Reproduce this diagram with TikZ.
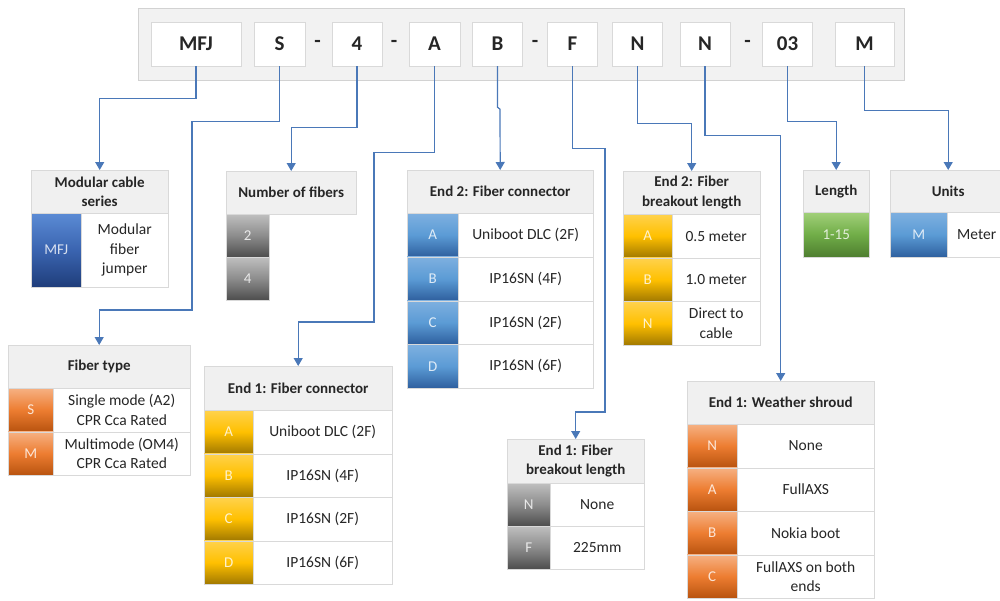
\documentclass[tikz,border=0pt]{standalone}
\usepackage{fontspec}
\setmainfont{Carlito}
\usetikzlibrary{arrows.meta}
\definecolor{linkblue}{HTML}{4A78B8}
\definecolor{inkgrey}{HTML}{262626}
\begin{document}
\begin{tikzpicture}[
    x=1pt, y=-1pt,
    every node/.style={inner sep=0pt, text=inkgrey},
    bar/.style={draw=gray!35, fill=gray!10, anchor=north west},
    code/.style={draw=gray!30, fill=white, minimum width=50, minimum height=44, font=\fontsize{21}{21}\selectfont\bfseries},
    sep/.style={font=\fontsize{21}{21}\selectfont\bfseries},
    hdr/.style={draw=gray!30, fill=gray!12, anchor=north west, align=center, font=\fontsize{15}{19.5}\selectfont\bfseries},
    txt/.style={draw=gray!30, fill=white, anchor=north west, align=center, font=\fontsize{15.5}{19.5}\selectfont},
    key/.style={draw=gray!30, anchor=north west, text=white, text opacity=0.8, font=\fontsize{15}{15}\selectfont},
    keyblue/.style={key, top color={rgb,255:red,126;green,176;blue,224}, bottom color={rgb,255:red,46;green,95;blue,158}, middle color={rgb,255:red,91;green,155;blue,213}},
    keynavy/.style={key, top color={rgb,255:red,91;green,139;blue,213}, bottom color={rgb,255:red,31;green,61;blue,122}, middle color={rgb,255:red,58;green,100;blue,176}},
    keygold/.style={key, top color={rgb,255:red,255;green,210;blue,77}, bottom color={rgb,255:red,160;green,120;blue,0}, middle color={rgb,255:red,255;green,192;blue,0}},
    keyorange/.style={key, top color={rgb,255:red,246;green,177;blue,131}, bottom color={rgb,255:red,184;green,83;blue,15}, middle color={rgb,255:red,237;green,125;blue,49}},
    keygrey/.style={key, top color={rgb,255:red,191;green,191;blue,191}, bottom color={rgb,255:red,77;green,77;blue,77}, middle color={rgb,255:red,140;green,140;blue,140}},
    keygreen/.style={key, top color={rgb,255:red,162;green,208;blue,122}, bottom color={rgb,255:red,78;green,125;blue,48}, middle color={rgb,255:red,112;green,173;blue,71}},
    link/.style={draw=linkblue, line width=1.2pt, -{Triangle[length=8pt,width=9pt]}}
]
    \useasboundingbox (0,0) rectangle (1000,600);
    \clip (0,0) rectangle (1000,600);

    % part number bar
    \node[bar, minimum width=766.5, minimum height=72] (bar) at (137.5,8) {};
    \node[code, minimum width=90] (mfj) at (196,44) {MFJ};
    \node[code, minimum width=51] (s) at (279.5,44) {S};
    \node[sep] (d1) at (317.5,44) {-};
    \node[code] (four) at (357,44) {4};
    \node[sep] (d2) at (394,44) {-};
    \node[code, minimum width=51] (a) at (434.5,44) {A};
    \node[code] (b) at (497.5,44) {B};
    \node[sep] (d3) at (535,44) {-};
    \node[code] (f) at (572.5,44) {F};
    \node[code] (n1) at (637.5,44) {N};
    \node[code] (n2) at (705,44) {N};
    \node[sep] (d4) at (747.5,44) {-};
    \node[code] (len) at (787.5,44) {03};
    \node[code, minimum width=59] (m) at (864.5,44) {M};

    % Modular cable series
    \node[hdr, minimum width=137, minimum height=43] (hmcs) at (31,170) {Modular cable\\series};
    \node[keynavy, minimum width=50, minimum height=74] (mcsk) at (31,213) {MFJ};
    \node[txt, minimum width=87, minimum height=74] (mcst) at (81,213) {Modular\\fiber\\jumper};

    % Number of fibers
    \node[hdr, minimum width=130, minimum height=43] (hnof) at (226,171) {Number of fibers};
    \foreach \k [count=\i from 0] in {2,4} {
        \node[keygrey, minimum width=43, minimum height=43] (nofk\i) at (226,214+43*\i) {\k};
    }

    % Fiber type
    \node[hdr, minimum width=182, minimum height=43] (hft) at (8,345) {Fiber type};
    \foreach \k/\t [count=\i from 0] in {S/Single mode (A2)\\CPR Cca Rated, M/Multimode (OM4)\\CPR Cca Rated} {
        \node[keyorange, minimum width=45, minimum height=43.5] (ftk\i) at (8,388+43.5*\i) {\k};
        \node[txt, minimum width=137, minimum height=43.5] (ftt\i) at (53,388+43.5*\i) {\t};
    }

    % End 1: Fiber connector
    \node[hdr, minimum width=188, minimum height=44] (hfca) at (204,366) {End 1: Fiber connector};
    \foreach \k/\t [count=\i from 0] in {A/Uniboot DLC (2F), B/IP16SN (4F), C/IP16SN (2F), D/IP16SN (6F)} {
        \node[keygold, minimum width=49, minimum height=43.5] (fcak\i) at (204,410+43.5*\i) {\k};
        \node[txt, minimum width=139, minimum height=43.5] (fcat\i) at (253,410+43.5*\i) {\t};
    }

    % End 2: Fiber connector
    \node[hdr, minimum width=186, minimum height=43] (hfcb) at (407,170) {End 2: Fiber connector};
    \foreach \k/\t [count=\i from 0] in {A/Uniboot DLC (2F), B/IP16SN (4F), C/IP16SN (2F), D/IP16SN (6F)} {
        \node[keyblue, minimum width=51, minimum height=43.75] (fcbk\i) at (407,213+43.75*\i) {\k};
        \node[txt, minimum width=135, minimum height=43.75] (fcbt\i) at (458,213+43.75*\i) {\t};
    }

    % End 1: Fiber breakout length
    \node[hdr, minimum width=137, minimum height=44] (hboa) at (507,439) {End 1: Fiber\\breakout length};
    \foreach \k/\t [count=\i from 0] in {N/None, F/225mm} {
        \node[keygrey, minimum width=43, minimum height=43] (boak\i) at (507,483+43*\i) {\k};
        \node[txt, minimum width=94, minimum height=43] (boat\i) at (550,483+43*\i) {\t};
    }

    % End 2: Fiber breakout length
    \node[hdr, minimum width=137, minimum height=43] (hbob) at (623,171) {End 2: Fiber\\breakout length};
    \foreach \k/\t [count=\i from 0] in {A/0.5 meter, B/1.0 meter, N/Direct to\\cable} {
        \node[keygold, minimum width=49, minimum height=43.7] (bobk\i) at (623,214+43.7*\i) {\k};
        \node[txt, minimum width=88, minimum height=43.7] (bobt\i) at (672,214+43.7*\i) {\t};
    }

    % End 1: Weather shroud
    \node[hdr, minimum width=187, minimum height=43] (hws) at (687,381) {End 1: Weather shroud};
    \foreach \k/\t [count=\i from 0] in {N/None, A/FullAXS, B/Nokia boot, C/FullAXS on both\\ends} {
        \node[keyorange, minimum width=50, minimum height=43.5] (wsk\i) at (687,424+43.5*\i) {\k};
        \node[txt, minimum width=137, minimum height=43.5] (wst\i) at (737,424+43.5*\i) {\t};
    }

    % Length
    \node[hdr, minimum width=66, minimum height=42] (hlen) at (803,170) {Length};
    \node[keygreen, minimum width=66, minimum height=45] (lenk) at (803,212) {1-15};

    % Units
    \node[hdr, minimum width=116, minimum height=42] (hunit) at (890,170) {Units};
    \node[keyblue, minimum width=57, minimum height=45] (unitk) at (890,212) {M};
    \node[txt, minimum width=59, minimum height=45] (unitt) at (947,212) {Meter};

    % connectors
    \draw[link] (mfj.south) -- ++(0,32) -| (hmcs.north);
    \draw[link] (s.south) -- ++(0,55) -| (192,310) -| (hft.north);
    \draw[link] (four.south) -- ++(0,61) -| (hnof.north);
    \draw[link] (a.south) -- ++(0,86) -| (374,322) -| (hfca.north);
    \draw[link] (b.south) -- ++(0,41) -- ++(2.5,2) -- (hfcb.north);
    \draw[link] (f.south) -- ++(0,82) -| (605,412) -| (hboa.north);
    \draw[link] (n1.south) -- ++(0,57) -| (hbob.north);
    \draw[link] (n2.south) -- ++(0,69) -| (hws.north);
    \draw[link] (len.south) -- ++(0,55) -| (hlen.north);
    \draw[link] (m.south) -- ++(0,44) -| (hunit.north);
\end{tikzpicture}
\end{document}
